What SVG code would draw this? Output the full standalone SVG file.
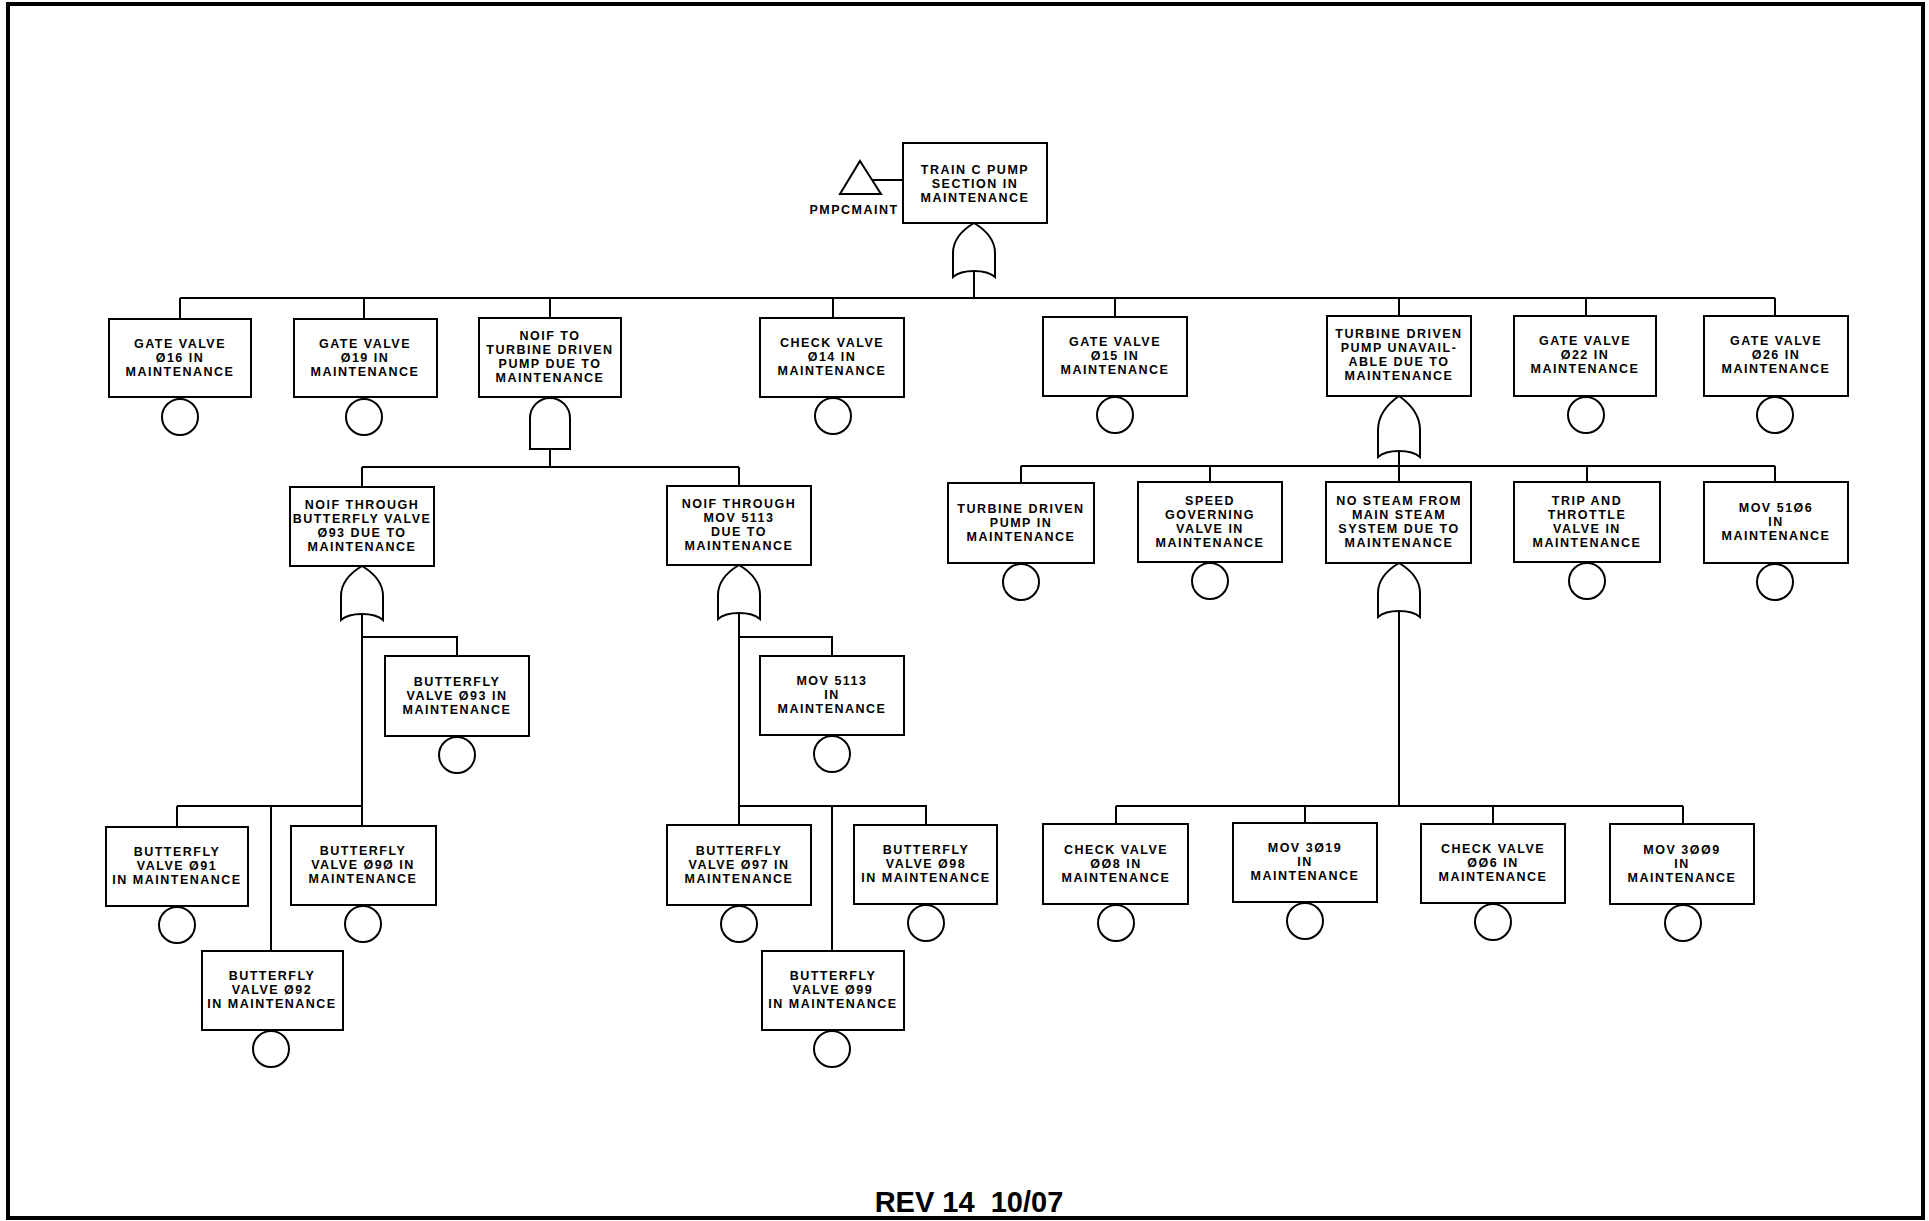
<svg xmlns="http://www.w3.org/2000/svg" width="1929" height="1221" viewBox="0 0 1929 1221">
<style>
.b{fill:#fff;stroke:#000;stroke-width:2}
.c{fill:#fff;stroke:#000;stroke-width:2}
.g{fill:#fff;stroke:#000;stroke-width:2}
.l{fill:none;stroke:#000;stroke-width:2}
text{font-family:"Liberation Sans",Arial,sans-serif;font-weight:bold;font-size:12.5px;letter-spacing:1.5px;text-anchor:middle;fill:#000}
.rev{font-size:29px;letter-spacing:0;white-space:pre}
</style>
<defs>
<path id="or" d="M0,0 C10,6 21,16 21,30 L21,54 C12,46 -12,46 -21,54 L-21,30 C-21,16 -10,6 0,0 Z"/>
<path id="orT" d="M0,0 C10,7 21,18 21,34 L21,61 C12,53 -12,53 -21,61 L-21,34 C-21,18 -10,7 0,0 Z"/>
</defs>
<rect x="8" y="4" width="1915" height="1214" fill="none" stroke="#000" stroke-width="4"/>
<g id="connectors" class="l">
<path class="l" d="M871,180 H903"/>
<path class="l" d="M974,268 V298 M180,298 H1775 M180,298 V319 M364,298 V319 M550,298 V318 M833,298 V318 M1115,298 V317 M1399,298 V316 M1586,298 V316 M1775,298 V316"/>
<path class="l" d="M550,449 V467 M362,467 H739 M362,467 V487 M739,467 V486"/>
<path class="l" d="M362,612 V826 M362,637 H457 V656 M177,806 H362 M177,806 V827 M271,806 V951"/>
<path class="l" d="M739,612 V825 M739,637 H832 V656 M739,806 H926 V825 M832,806 V951"/>
<path class="l" d="M1399,450 V466 M1021,466 H1775 M1021,466 V483 M1210,466 V482 M1399,466 V482 M1587,466 V482 M1775,466 V482"/>
<path class="l" d="M1399,610 V806 M1116,806 H1683 M1116,806 V824 M1305,806 V823 M1493,806 V824 M1683,806 V824"/>
</g>
<g id="n-top"><polygon class="g" points="860,161 881,194 840,194"/><text x="854" y="214">PMPCMAINT</text>
<rect class="b" x="903" y="143" width="144" height="80"/><text x="975" y="174">TRAIN C PUMP</text><text x="975" y="188">SECTION IN</text><text x="975" y="202">MAINTENANCE</text>
<use href="#or" class="g" x="974" y="223"/></g>
<g id="n-b1"><rect class="b" x="109" y="319" width="142" height="78"/><text x="180" y="348">GATE VALVE</text><text x="180" y="362">Ø16 IN</text><text x="180" y="376">MAINTENANCE</text><circle class="c" cx="180" cy="417" r="18"/></g>
<g id="n-b2"><rect class="b" x="294" y="319" width="143" height="78"/><text x="365" y="348">GATE VALVE</text><text x="365" y="362">Ø19 IN</text><text x="365" y="376">MAINTENANCE</text><circle class="c" cx="364" cy="417" r="18"/></g>
<g id="n-b3"><rect class="b" x="479" y="318" width="142" height="79"/><text x="550" y="340">NOIF TO</text><text x="550" y="354">TURBINE DRIVEN</text><text x="550" y="368">PUMP DUE TO</text><text x="550" y="382">MAINTENANCE</text>
<path class="g" d="M530,449 V418 A20,20 0 0 1 570,418 V449 Z"/></g>
<g id="n-b4"><rect class="b" x="760" y="318" width="144" height="79"/><text x="832" y="347">CHECK VALVE</text><text x="832" y="361">Ø14 IN</text><text x="832" y="375">MAINTENANCE</text><circle class="c" cx="833" cy="416" r="18"/></g>
<g id="n-b5"><rect class="b" x="1043" y="317" width="144" height="79"/><text x="1115" y="346">GATE VALVE</text><text x="1115" y="360">Ø15 IN</text><text x="1115" y="374">MAINTENANCE</text><circle class="c" cx="1115" cy="415" r="18"/></g>
<g id="n-b6"><rect class="b" x="1327" y="316" width="144" height="80"/><text x="1399" y="338">TURBINE DRIVEN</text><text x="1399" y="352">PUMP UNAVAIL-</text><text x="1399" y="366">ABLE DUE TO</text><text x="1399" y="380">MAINTENANCE</text>
<use href="#orT" class="g" x="1399" y="396"/></g>
<g id="n-b7"><rect class="b" x="1514" y="316" width="142" height="80"/><text x="1585" y="345">GATE VALVE</text><text x="1585" y="359">Ø22 IN</text><text x="1585" y="373">MAINTENANCE</text><circle class="c" cx="1586" cy="415" r="18"/></g>
<g id="n-b8"><rect class="b" x="1704" y="316" width="144" height="80"/><text x="1776" y="345">GATE VALVE</text><text x="1776" y="359">Ø26 IN</text><text x="1776" y="373">MAINTENANCE</text><circle class="c" cx="1775" cy="415" r="18"/></g>
<g id="n-n1"><rect class="b" x="290" y="487" width="144" height="79"/><text x="362" y="509">NOIF THROUGH</text><text x="362" y="523">BUTTERFLY VALVE</text><text x="362" y="537">Ø93 DUE TO</text><text x="362" y="551">MAINTENANCE</text>
<use href="#or" class="g" x="362" y="566"/></g>
<g id="n-n2"><rect class="b" x="667" y="486" width="144" height="79"/><text x="739" y="508">NOIF THROUGH</text><text x="739" y="522">MOV 5113</text><text x="739" y="536">DUE TO</text><text x="739" y="550">MAINTENANCE</text>
<use href="#or" class="g" x="739" y="565"/></g>
<g id="n-l1"><rect class="b" x="385" y="656" width="144" height="80"/><text x="457" y="686">BUTTERFLY</text><text x="457" y="700">VALVE Ø93 IN</text><text x="457" y="714">MAINTENANCE</text><circle class="c" cx="457" cy="755" r="18"/></g>
<g id="n-l2"><rect class="b" x="760" y="656" width="144" height="79"/><text x="832" y="685">MOV 5113</text><text x="832" y="699">IN</text><text x="832" y="713">MAINTENANCE</text><circle class="c" cx="832" cy="754" r="18"/></g>
<g id="n-l3"><rect class="b" x="106" y="827" width="142" height="79"/><text x="177" y="856">BUTTERFLY</text><text x="177" y="870">VALVE Ø91</text><text x="177" y="884">IN MAINTENANCE</text><circle class="c" cx="177" cy="925" r="18"/></g>
<g id="n-l4"><rect class="b" x="291" y="826" width="145" height="79"/><text x="363" y="855">BUTTERFLY</text><text x="363" y="869">VALVE Ø9Ø IN</text><text x="363" y="883">MAINTENANCE</text><circle class="c" cx="363" cy="924" r="18"/></g>
<g id="n-l5"><rect class="b" x="202" y="951" width="141" height="79"/><text x="272" y="980">BUTTERFLY</text><text x="272" y="994">VALVE Ø92</text><text x="272" y="1008">IN MAINTENANCE</text><circle class="c" cx="271" cy="1049" r="18"/></g>
<g id="n-l6"><rect class="b" x="667" y="825" width="144" height="80"/><text x="739" y="855">BUTTERFLY</text><text x="739" y="869">VALVE Ø97 IN</text><text x="739" y="883">MAINTENANCE</text><circle class="c" cx="739" cy="924" r="18"/></g>
<g id="n-l7"><rect class="b" x="854" y="825" width="143" height="79"/><text x="926" y="854">BUTTERFLY</text><text x="926" y="868">VALVE Ø98</text><text x="926" y="882">IN MAINTENANCE</text><circle class="c" cx="926" cy="923" r="18"/></g>
<g id="n-l8"><rect class="b" x="762" y="951" width="142" height="79"/><text x="833" y="980">BUTTERFLY</text><text x="833" y="994">VALVE Ø99</text><text x="833" y="1008">IN MAINTENANCE</text><circle class="c" cx="832" cy="1049" r="18"/></g>
<g id="n-r1"><rect class="b" x="948" y="483" width="146" height="80"/><text x="1021" y="513">TURBINE DRIVEN</text><text x="1021" y="527">PUMP IN</text><text x="1021" y="541">MAINTENANCE</text><circle class="c" cx="1021" cy="582" r="18"/></g>
<g id="n-r2"><rect class="b" x="1138" y="482" width="144" height="80"/><text x="1210" y="505">SPEED</text><text x="1210" y="519">GOVERNING</text><text x="1210" y="533">VALVE IN</text><text x="1210" y="547">MAINTENANCE</text><circle class="c" cx="1210" cy="581" r="18"/></g>
<g id="n-r3"><rect class="b" x="1326" y="482" width="145" height="81"/><text x="1399" y="505">NO STEAM FROM</text><text x="1399" y="519">MAIN STEAM</text><text x="1399" y="533">SYSTEM DUE TO</text><text x="1399" y="547">MAINTENANCE</text>
<use href="#or" class="g" x="1399" y="563"/></g>
<g id="n-r4"><rect class="b" x="1514" y="482" width="146" height="80"/><text x="1587" y="505">TRIP AND</text><text x="1587" y="519">THROTTLE</text><text x="1587" y="533">VALVE IN</text><text x="1587" y="547">MAINTENANCE</text><circle class="c" cx="1587" cy="581" r="18"/></g>
<g id="n-r5"><rect class="b" x="1704" y="482" width="144" height="81"/><text x="1776" y="512">MOV 51Ø6</text><text x="1776" y="526">IN</text><text x="1776" y="540">MAINTENANCE</text><circle class="c" cx="1775" cy="582" r="18"/></g>
<g id="n-r6"><rect class="b" x="1043" y="824" width="145" height="80"/><text x="1116" y="854">CHECK VALVE</text><text x="1116" y="868">ØØ8 IN</text><text x="1116" y="882">MAINTENANCE</text><circle class="c" cx="1116" cy="923" r="18"/></g>
<g id="n-r7"><rect class="b" x="1233" y="823" width="144" height="79"/><text x="1305" y="852">MOV 3Ø19</text><text x="1305" y="866">IN</text><text x="1305" y="880">MAINTENANCE</text><circle class="c" cx="1305" cy="921" r="18"/></g>
<g id="n-r8"><rect class="b" x="1421" y="824" width="144" height="79"/><text x="1493" y="853">CHECK VALVE</text><text x="1493" y="867">ØØ6 IN</text><text x="1493" y="881">MAINTENANCE</text><circle class="c" cx="1493" cy="922" r="18"/></g>
<g id="n-r9"><rect class="b" x="1610" y="824" width="144" height="80"/><text x="1682" y="854">MOV 3ØØ9</text><text x="1682" y="868">IN</text><text x="1682" y="882">MAINTENANCE</text><circle class="c" cx="1683" cy="923" r="18"/></g>
<text class="rev" x="969" y="1212">REV 14  10/07</text>
</svg>
